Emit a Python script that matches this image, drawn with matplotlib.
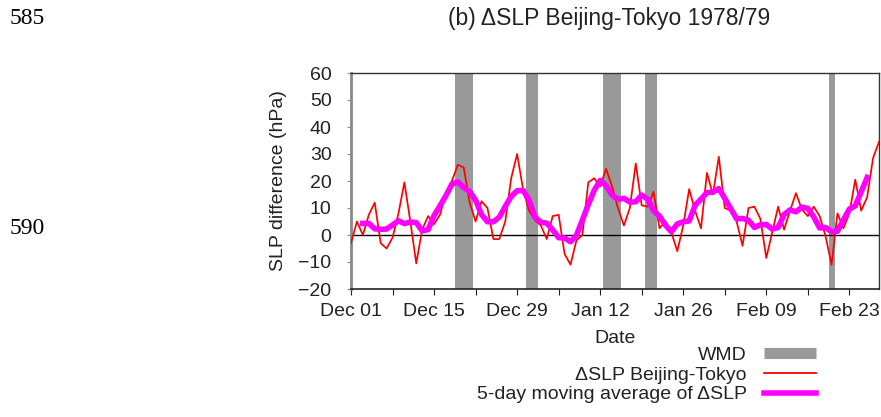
import pandas as pd
import matplotlib
matplotlib.use('Agg')
import matplotlib.pyplot as plt
from matplotlib.lines import Line2D

plt.rcParams['font.family'] = ['Liberation Sans', 'DejaVu Sans']

# daily SLP difference Beijing minus Tokyo, winter 1978/79 (hPa)
start_date = '1978-12-01'
end_date = '1979-02-28'
dslp = [
    -3, 5, 0, 7.5, 12, -3, -5, -1, 8, 19.5,
    5, -10.5, 2, 7, 4, 7.5, 15.5, 20, 26, 25,
    12, 5, 12.5, 10, -1.5, -1.5, 5, 21, 30, 17,
    9, 5.5, 3.5, -1.5, 7, 7.5, -7, -11, -2, 0,
    19.5, 21, 18, 24.5, 18, 10, 3.5, 10, 26.5, 11,
    10.5, 16, 2.5, 5, 1, -6, 3.5, 17, 9, 2.5,
    23, 15, 29, 10, 9, 5, -4, 10, 10.5, 6,
    -8.5, 1, 10.5, 2, 9, 15.5, 9.5, 7, 10.5, 7,
    -0.5, -11, 8, 2.5, 8, 20.5, 9, 14, 28.5, 34.5,
]

# winter monsoon days (first day, last day)
wmd_start = ['1978-12-19', '1978-12-31', '1979-01-13', '1979-01-20', '1979-02-20']
wmd_end = ['1978-12-21', '1979-01-01', '1979-01-15', '1979-01-21', '1979-02-20']

tick_dates = pd.date_range(start_date, end_date, freq='7D')

dates = pd.date_range(start_date, end_date, freq='D')
series = pd.Series(dslp, index=dates)
smooth = series.rolling(5, center=True).mean()

fig = plt.figure(figsize=(8.81, 4.17), dpi=100)
ax = fig.add_axes([351 / 881, 1 - 289 / 417, 528 / 881, 216 / 417])

half = pd.Timedelta(hours=12)
for s, e in zip(wmd_start, wmd_end):
    ax.axvspan(pd.Timestamp(s) - half, pd.Timestamp(e) + half,
               color='#999999', lw=0, zorder=1)

ax.axhline(0, color='black', lw=1, zorder=2)
ax.plot(series.index, series.values, color='#ff0000', lw=1.25, zorder=3)
ax.plot(smooth.index, smooth.values, color='#ff00ff', lw=4, zorder=4)

ax.set_xlim(dates[0], dates[-1])
ax.set_ylim(-20, 60)
ax.set_yticks(range(-20, 61, 10))
ax.set_xticks(tick_dates)
ax.set_xticklabels([d.strftime('%b %d') if i % 2 == 0 else ''
                    for i, d in enumerate(tick_dates)])

text_color = '#222222'
ax.tick_params(axis='y', length=3, pad=11, color='#888888',
               labelsize=14, labelcolor=text_color)
ax.tick_params(axis='x', length=4, pad=6, color='#222222',
               labelsize=14, labelcolor=text_color)

ax.spines['left'].set_color('#888888')
ax.spines['left'].set_linewidth(2)
ax.spines['bottom'].set_color('#222222')
ax.spines['bottom'].set_linewidth(1.2)
for side in ['top', 'right']:
    ax.spines[side].set_color('#333333')
    ax.spines[side].set_linewidth(1)

ax.set_xlabel('Date', fontsize=14, color=text_color, labelpad=7)
ax.set_ylabel('SLP difference (hPa)', fontsize=14, color=text_color, labelpad=8)

fig.text(609 / 881, 1 - 18 / 417, '(b) ΔSLP Beijing-Tokyo 1978/79',
         fontsize=16.5, color=text_color, ha='center', va='center')

# page line numbers
fig.text(10 / 881, 1 - 19 / 417, '585', family='Liberation Serif',
         fontsize=17, color='black', ha='left', va='center')
fig.text(10 / 881, 1 - 229 / 417, '590', family='Liberation Serif',
         fontsize=17, color='black', ha='left', va='center')

handles = [
    Line2D([], [], color='#999999', lw=8, solid_capstyle='butt'),
    Line2D([], [], color='#ff0000', lw=1.3),
    Line2D([], [], color='#ff00ff', lw=4),
]
labels = ['WMD', 'ΔSLP Beijing-Tokyo', '5-day moving average of ΔSLP']
fig.legend(handles, labels, loc='upper right',
           bbox_to_anchor=(816 / 881, 1 - 346 / 417),
           frameon=False, markerfirst=False, fontsize=14,
           handlelength=2.7, handletextpad=0.85, labelspacing=0.12,
           borderpad=0, borderaxespad=0, labelcolor=text_color)

fig.savefig('out.png', dpi=100)
